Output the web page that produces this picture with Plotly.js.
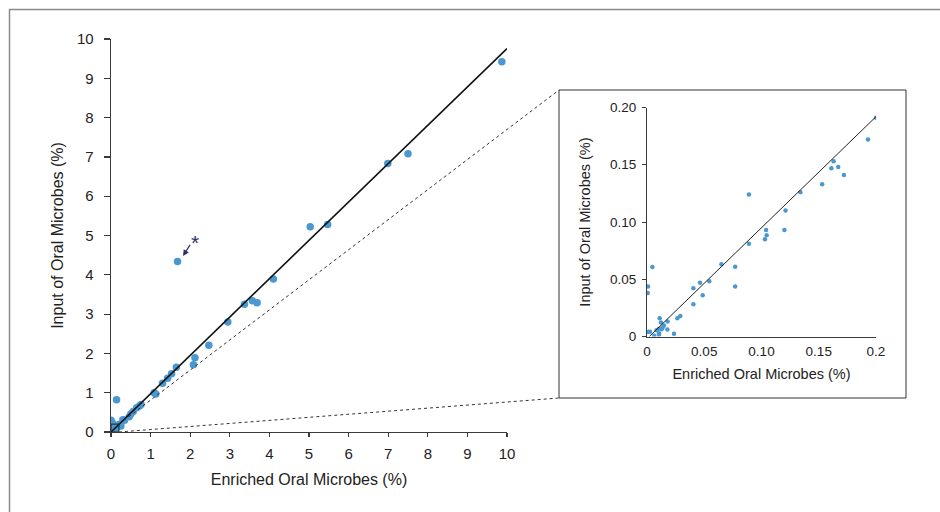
<!DOCTYPE html>
<html>
<head>
<meta charset="utf-8">
<script src="https://cdn.plot.ly/plotly-3.0.1.min.js"></script>
<style>html,body{margin:0;padding:0;background:#fff;}#chart{width:940px;height:512px;}</style>
</head>
<body>
<div id="chart"></div>
<script>
// Microbes with abundance above the inset range (main panel only)
const largeEnriched = [9.87, 7.50, 6.99, 5.03, 5.47, 1.68, 4.10, 3.37, 3.57, 3.69, 2.95, 2.47, 2.12, 2.08, 1.65, 1.53, 1.43, 1.30, 1.09, 1.13, 0.14, 0.76, 0.72, 0.65, 0.56, 0.50, 0.46, 0.30, 0.34, 0.23, 0.25, 0.00, 0.03];
const largeInput    = [9.42, 7.08, 6.83, 5.22, 5.28, 4.34, 3.89, 3.25, 3.34, 3.29, 2.80, 2.21, 1.89, 1.71, 1.65, 1.48, 1.37, 1.24, 1.00, 0.97, 0.82, 0.70, 0.66, 0.62, 0.52, 0.46, 0.39, 0.31, 0.30, 0.20, 0.15, 0.30, 0.24];
// Microbes with abundance up to 0.2% (shown in both panels)
const smallEnriched = [0.200, 0.193, 0.163, 0.161, 0.167, 0.172, 0.153, 0.134, 0.089, 0.121, 0.104, 0.120, 0.1045, 0.103, 0.089, 0.065, 0.077, 0.0047, 0.0544, 0.0463, 0.0009, 0.077, 0.0405, 0.0006, 0.0486, 0.0405, 0.0291, 0.0265, 0.0111, 0.0122, 0.018, 0.0148, 0.0137, 0.0128, 0.0105, 0.0084, 0.0178, 0.0012, 0.0026, 0.0105, 0.0105, 0.0236, 0.0064];
const smallInput    = [0.191, 0.172, 0.153, 0.147, 0.148, 0.141, 0.133, 0.126, 0.124, 0.110, 0.093, 0.093, 0.0885, 0.085, 0.081, 0.063, 0.061, 0.0606, 0.0483, 0.0469, 0.0437, 0.0437, 0.0422, 0.0381, 0.0361, 0.0282, 0.0178, 0.0160, 0.0160, 0.0122, 0.0131, 0.0096, 0.0079, 0.0064, 0.0067, 0.0055, 0.0061, 0.0041, 0.0041, 0.0029, 0.0015, 0.0023, 0.0006];
// Fit lines
const fitSlope = 0.976;
const fitIntercept = -0.003;
const insetFitSlope = 0.97;
const insetFitIntercept = -0.002;
const mainRange = [0, 10];
const insetRange = [0, 0.2];
const mainTicks = [0, 1, 2, 3, 4, 5, 6, 7, 8, 9, 10];
const insetXTickVals = [0, 0.05, 0.10, 0.15, 0.2];
const insetXTickText = ['0', '0.05', '0.10', '0.15', '0.2'];
const insetYTickVals = [0, 0.05, 0.10, 0.15, 0.20];
const insetYTickText = ['0', '0.05', '0.10', '0.15', '0.20'];
// Highlighted outlier
const starX = [2.12], starY = [4.89];
const arrowHead = [1.82, 4.48], arrowTail = [2.02, 4.80];

const W = 940, H = 512;
const xd1 = [111 / W, 507 / W], yd1 = [1 - 432 / H, 1 - 39 / H];
const xd2 = [647 / W, 876 / W], yd2 = [1 - 336.5 / H, 1 - 107.5 / H];
const insetBox = {x0: 559 / W, x1: 906 / W, y0: 1 - 398 / H, y1: 1 - 90 / H};

const color = '#4a98d0';

const allX = largeEnriched.concat(smallEnriched);
const allY = largeInput.concat(smallInput);

const traces = [
  {x: allX, y: allY, type: 'scatter', mode: 'markers', xaxis: 'x', yaxis: 'y',
   marker: {color: color, size: 7.5}},
  {x: [-fitIntercept / fitSlope, mainRange[1]], y: [0, mainRange[1] * fitSlope + fitIntercept], type: 'scatter', mode: 'lines',
   xaxis: 'x', yaxis: 'y', line: {color: '#111', width: 1.6}},
  {x: smallEnriched, y: smallInput, type: 'scatter', mode: 'markers', xaxis: 'x2', yaxis: 'y2',
   marker: {color: color, size: 4.5}},
  {x: [-insetFitIntercept / insetFitSlope, insetRange[1]], y: [0, insetRange[1] * insetFitSlope + insetFitIntercept], type: 'scatter', mode: 'lines',
   xaxis: 'x2', yaxis: 'y2', line: {color: '#222', width: 1}}
];

const fracX = v => xd1[0] + (v - mainRange[0]) / (mainRange[1] - mainRange[0]) * (xd1[1] - xd1[0]);
const fracY = v => yd1[0] + (v - mainRange[0]) / (mainRange[1] - mainRange[0]) * (yd1[1] - yd1[0]);

const font = {family: '"Liberation Sans", Arial, sans-serif', color: '#222'};
const axisCommon = {showgrid: false, zeroline: false, showline: true, linecolor: '#3a3a3a', linewidth: 1.4,
  ticks: 'outside', tickcolor: '#3a3a3a', ticklen: 5, tickwidth: 1.2, fixedrange: true};

const layout = {
  width: W, height: H, margin: {l: 0, r: 0, t: 0, b: 0},
  paper_bgcolor: '#fff', plot_bgcolor: 'rgba(0,0,0,0)', showlegend: false,
  font: Object.assign({size: 14}, font),
  xaxis: Object.assign({}, axisCommon, {domain: xd1, range: mainRange, tickvals: mainTicks,
    tickfont: {size: 15}, anchor: 'y', ticklen: 4, ticklabelstandoff: 4,
    title: {text: 'Enriched Oral Microbes (%)', font: {size: 16}, standoff: 12}}),
  yaxis: Object.assign({}, axisCommon, {domain: yd1, range: mainRange, tickvals: mainTicks,
    tickfont: {size: 15}, anchor: 'x', ticklen: 6, ticklabelstandoff: 7,
    title: {text: 'Input of Oral Microbes (%)', font: {size: 16}, standoff: 9}}),
  xaxis2: Object.assign({}, axisCommon, {domain: xd2, range: insetRange, tickvals: insetXTickVals,
    ticktext: insetXTickText, ticklen: 1, tickcolor: 'rgba(0,0,0,0)', ticklabelstandoff: 1,
    tickfont: {size: 13.5}, anchor: 'y2', linewidth: 1.1,
    title: {text: 'Enriched Oral Microbes (%)', font: {size: 14.5}, standoff: 11}}),
  yaxis2: Object.assign({}, axisCommon, {domain: yd2, range: insetRange, tickvals: insetYTickVals,
    ticktext: insetYTickText, ticklen: 4, tickwidth: 1, tickfont: {size: 13.5}, anchor: 'x2', linewidth: 1.1,
    ticklabelstandoff: 3,
    title: {text: 'Input of Oral Microbes (%)', font: {size: 14.5}, standoff: 15}}),
  shapes: [
    // outer frame
    {type: 'rect', xref: 'paper', yref: 'paper', x0: 9.5 / W, x1: 1.02, y0: -0.02, y1: 1 - 9.5 / H,
     line: {color: '#8a8a8a', width: 1.5}, layer: 'below'},
    // inset box
    {type: 'rect', xref: 'paper', yref: 'paper', x0: insetBox.x0, x1: insetBox.x1, y0: insetBox.y0, y1: insetBox.y1,
     line: {color: '#333', width: 1}},
    // zoom region box in main plot
    {type: 'rect', xref: 'x', yref: 'y', x0: insetRange[0], x1: insetRange[1], y0: insetRange[0], y1: insetRange[1],
     line: {color: '#222', width: 1}},
    // connectors
    {type: 'line', xref: 'paper', yref: 'paper', x0: fracX(insetRange[1]), y0: fracY(insetRange[1]),
     x1: insetBox.x0, y1: insetBox.y1, line: {color: '#333', width: 1, dash: 'dot'}},
    {type: 'line', xref: 'paper', yref: 'paper', x0: fracX(insetRange[1]), y0: fracY(insetRange[0]),
     x1: insetBox.x0, y1: insetBox.y0, line: {color: '#333', width: 1, dash: 'dot'}}
  ],
  annotations: [
    {x: starX[0], y: starY[0], xref: 'x', yref: 'y', text: '*', showarrow: false,
     font: {size: 21, color: '#2b2f6b', family: font.family}, yshift: -3},
    {x: arrowHead[0], y: arrowHead[1], ax: arrowTail[0], ay: arrowTail[1], xref: 'x', yref: 'y',
     axref: 'x', ayref: 'y', text: '', showarrow: true, arrowhead: 2, arrowsize: 1, arrowwidth: 1.2,
     arrowcolor: '#2b2f6b'}
  ]
};

Plotly.newPlot('chart', traces, layout, {staticPlot: true, displayModeBar: false});
</script>
</body>
</html>
